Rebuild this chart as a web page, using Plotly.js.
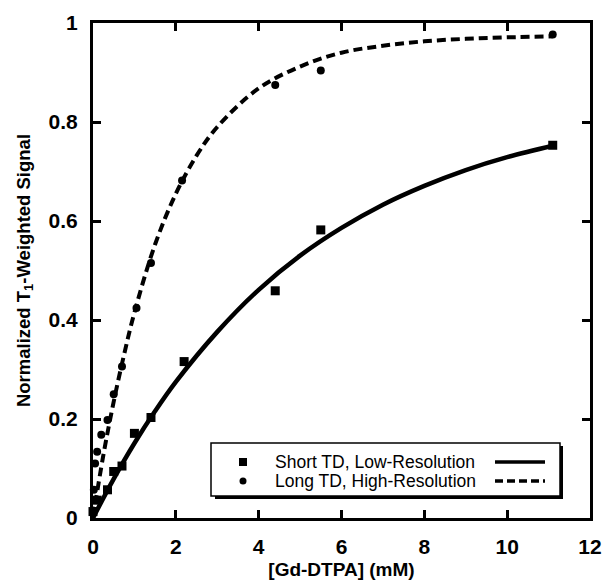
<!DOCTYPE html>
<html>
<head>
<meta charset="utf-8">
<script src="https://cdn.plot.ly/plotly-3.0.1.min.js"></script>
<style>html,body{margin:0;padding:0;background:#fff;}#chart{width:603px;height:581px;}</style>
</head>
<body>
<div id="chart"></div>
<script>
// Short TD, Low-Resolution (squares)
const shortX = [0, 0.1, 0.35, 0.5, 0.7, 1.0, 1.4, 2.2, 4.4, 5.5, 11.1];
const shortY = [0.013, 0.036, 0.057, 0.094, 0.105, 0.171, 0.203, 0.316, 0.459, 0.582, 0.753];
// Long TD, High-Resolution (circles)
const longX = [0, 0.02, 0.05, 0.1, 0.2, 0.35, 0.5, 0.7, 1.05, 1.4, 2.15, 4.4, 5.5, 11.1];
const longY = [0.015, 0.057, 0.11, 0.134, 0.168, 0.198, 0.25, 0.306, 0.424, 0.515, 0.682, 0.875, 0.904, 0.977];
// fitted curves
const shortFitX = [0, 0.5, 1, 1.5, 2, 3, 4, 5, 6, 7, 8, 9, 10, 11.1];
const shortFitY = [0, 0.079, 0.151, 0.216, 0.275, 0.376, 0.461, 0.530, 0.586, 0.633, 0.671, 0.703, 0.729, 0.752];
const longFitX = [0, 0.25, 0.5, 0.75, 1, 1.5, 2, 2.5, 3, 4, 5, 6, 7, 8, 9, 10, 11.1];
const longFitY = [0, 0.127, 0.235, 0.33, 0.415, 0.553, 0.655, 0.732, 0.79, 0.868, 0.912, 0.94, 0.954, 0.963, 0.968, 0.971, 0.973];
const legendLabels = ["Short TD, Low-Resolution", "Long TD, High-Resolution"];
const xTitle = "[Gd-DTPA] (mM)";
const yTitle = "Normalized T<sub>1</sub>-Weighted Signal";

const W = 603, H = 581;
const M = {l: 93, r: 13, t: 23, b: 63};
const pw = W - M.l - M.r, ph = H - M.t - M.b;
const px = x => (x - M.l) / pw;
const py = y => (H - M.b - y) / ph;

const traces = [
  {x: shortFitX, y: shortFitY, mode: 'lines', line: {color: '#000', width: 4.5, shape: 'spline'}, showlegend: false, hoverinfo: 'skip'},
  {x: longFitX, y: longFitY, mode: 'lines', line: {color: '#000', width: 4, dash: '9px,5px', shape: 'spline'}, showlegend: false, hoverinfo: 'skip'},
  {x: shortX, y: shortY, mode: 'markers', marker: {symbol: 'square', size: 9, color: '#000'}, cliponaxis: false, name: legendLabels[0], showlegend: false},
  {x: longX, y: longY, mode: 'markers', marker: {symbol: 'circle', size: 8, color: '#000'}, cliponaxis: false, name: legendLabels[1], showlegend: false}
];

const FAM = 'Liberation Sans';
const tickFont = {family: FAM, size: 21, color: '#000', weight: 'bold'};
const r1 = 462, r2 = 481;
const shapes = [
  {type: 'rect', xref: 'paper', yref: 'paper', x0: px(215), x1: px(563), y0: py(499), y1: py(446), fillcolor: '#000', line: {width: 0}, layer: 'above'},
  {type: 'rect', xref: 'paper', yref: 'paper', x0: px(211), x1: px(560), y0: py(496), y1: py(443), fillcolor: '#fff', line: {color: '#000', width: 1.5}, layer: 'above'},
  {type: 'rect', xref: 'paper', yref: 'paper', x0: px(239), x1: px(247), y0: py(r1 + 4), y1: py(r1 - 4), fillcolor: '#000', line: {width: 0}, layer: 'above'},
  {type: 'circle', xref: 'paper', yref: 'paper', x0: px(239.5), x1: px(246.5), y0: py(r2 + 3.5), y1: py(r2 - 3.5), fillcolor: '#000', line: {width: 0}, layer: 'above'},
  {type: 'line', xref: 'paper', yref: 'paper', x0: px(495), x1: px(545), y0: py(r1), y1: py(r1), line: {color: '#000', width: 3.5}, layer: 'above'},
  {type: 'line', xref: 'paper', yref: 'paper', x0: px(495), x1: px(545), y0: py(r2), y1: py(r2), line: {color: '#000', width: 3.5, dash: '8px,4px'}, layer: 'above'}
];

const annotations = legendLabels.map((t, i) => ({
  text: t, xref: 'paper', yref: 'paper', x: px(273), y: py(i === 0 ? r1 : r2),
  xanchor: 'left', yanchor: 'middle', showarrow: false,
  font: {family: FAM, size: 17.5, color: '#000'}
}));

const layout = {
  width: W, height: H, margin: M,
  paper_bgcolor: '#fff', plot_bgcolor: '#fff',
  showlegend: false,
  font: {family: FAM, color: '#000', size: 21},
  xaxis: {
    range: [0, 12], dtick: 2, tick0: 0, tickmode: 'linear',
    showline: true, linecolor: '#000', linewidth: 3, mirror: 'ticks',
    ticks: 'inside', ticklen: 8, tickwidth: 3, tickcolor: '#000',
    showgrid: false, zeroline: false,
    ticklabelstandoff: 8,
    tickfont: tickFont,
    title: {text: xTitle, standoff: 6, font: {family: FAM, size: 19, color: '#000', weight: 'bold'}}
  },
  yaxis: {
    range: [0, 1], dtick: 0.2, tick0: 0, tickmode: 'linear',
    showline: true, linecolor: '#000', linewidth: 3, mirror: 'ticks',
    ticks: 'inside', ticklen: 8, tickwidth: 3, tickcolor: '#000',
    showgrid: false, zeroline: false,
    ticklabelstandoff: 8,
    tickfont: tickFont,
    title: {text: yTitle, standoff: 14, font: {family: FAM, size: 18.5, color: '#000', weight: 'bold'}}
  },
  shapes: shapes,
  annotations: annotations
};

Plotly.newPlot('chart', traces, layout, {staticPlot: true, displayModeBar: false});
</script>
</body>
</html>
